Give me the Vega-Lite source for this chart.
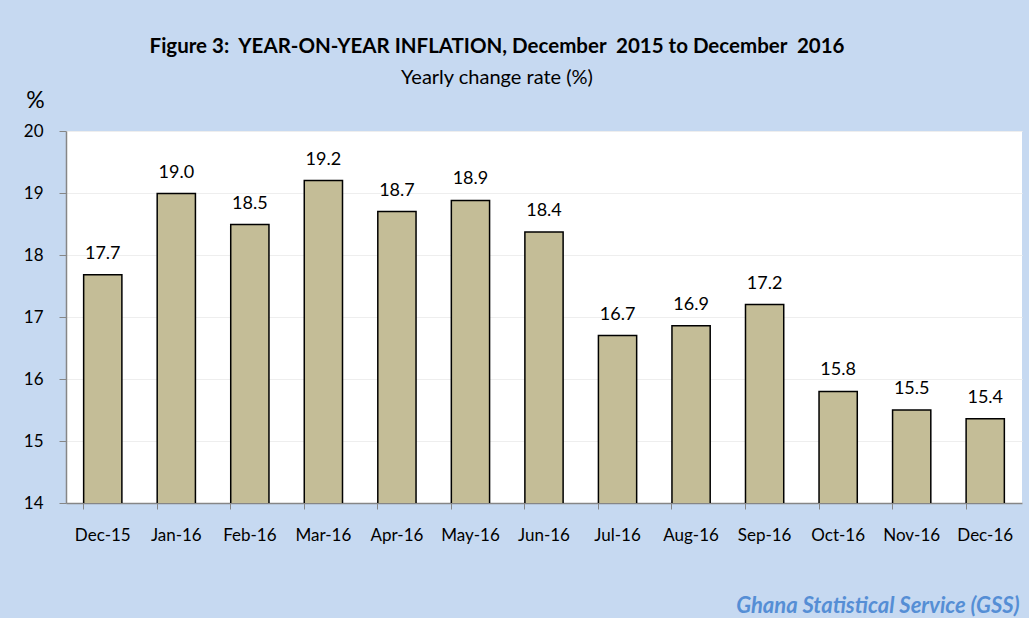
{
  "$schema": "https://vega.github.io/schema/vega-lite/v6.json",
  "width": 956,
  "height": 372,
  "autosize": {"type": "none"},
  "padding": {"left": 66, "top": 131, "right": 7, "bottom": 115},
  "background": "#C6D9F1",
  "title": {
    "text": "Figure 3:\u00a0 YEAR-ON-YEAR INFLATION, December\u00a0 2015 to December\u00a0 2016",
    "subtitle": "Yearly change rate (%)",
    "anchor": "middle",
    "frame": "group",
    "dx": -47,
    "offset": 1,
    "font": "Lato",
    "fontSize": 20.5,
    "fontWeight": "bold",
    "color": "#000000",
    "subtitleFont": "Lato",
    "subtitleFontSize": 20,
    "subtitleColor": "#000000",
    "subtitlePadding": 11
  },
  "data": {
    "values": [
      {"month": "Dec-15", "rate": 17.68},
      {"month": "Jan-16", "rate": 18.99},
      {"month": "Feb-16", "rate": 18.49},
      {"month": "Mar-16", "rate": 19.2},
      {"month": "Apr-16", "rate": 18.7},
      {"month": "May-16", "rate": 18.88},
      {"month": "Jun-16", "rate": 18.37},
      {"month": "Jul-16", "rate": 16.7},
      {"month": "Aug-16", "rate": 16.86},
      {"month": "Sep-16", "rate": 17.2},
      {"month": "Oct-16", "rate": 15.8},
      {"month": "Nov-16", "rate": 15.5},
      {"month": "Dec-16", "rate": 15.36}
    ]
  },
  "encoding": {
    "x": {
      "field": "month",
      "type": "nominal",
      "sort": null,
      "scale": {"paddingInner": 0.48, "paddingOuter": 0.24},
      "axis": {
        "title": "Ghana Statistical Service (GSS)",
        "titleFont": "Lato",
        "titleFontSize": 22,
        "titleFontStyle": "italic",
        "titleFontWeight": "bold",
        "titleColor": "#558ED5",
        "titleAnchor": null,
        "titleAlign": "right",
        "titleBaseline": "middle",
        "titleX": 953,
        "titleY": 102,
        "labelAngle": 0,
        "labelFont": "Lato",
        "labelFontSize": 17,
        "labelColor": "#000000",
        "labelPadding": 18,
        "bandPosition": 0,
        "tickSize": 6,
        "tickColor": "#868686",
        "domainColor": "#868686",
        "domainWidth": 1.5,
        "grid": false
      }
    },
    "y": {
      "field": "rate",
      "type": "quantitative",
      "scale": {"domain": [14, 20], "zero": false, "nice": false},
      "axis": {
        "title": "%",
        "titleAngle": 0,
        "titleFont": "Lato",
        "titleFontSize": 23,
        "titleFontWeight": "normal",
        "titleColor": "#000000",
        "titleAlign": "center",
        "titleBaseline": "middle",
        "titleX": -31,
        "titleY": -31,
        "values": [14, 15, 16, 17, 18, 19, 20],
        "labelFont": "Lato",
        "labelFontSize": 17,
        "labelColor": "#000000",
        "labelPadding": 16,
        "tickSize": 7,
        "tickColor": "#868686",
        "domainColor": "#868686",
        "domainWidth": 1.5,
        "gridColor": "#EEEEEE",
        "gridWidth": 1
      }
    }
  },
  "layer": [
    {
      "mark": {"type": "bar", "clip": true, "color": "#C4BD97", "stroke": "#000000", "strokeWidth": 1.5}
    },
    {
      "mark": {"type": "text", "font": "Lato", "fontSize": 18, "color": "#000000", "baseline": "middle", "dy": -21},
      "encoding": {"text": {"field": "rate", "type": "quantitative", "format": ".1f"}}
    }
  ],
  "config": {"view": {"fill": "#FFFFFF", "stroke": null}}
}
